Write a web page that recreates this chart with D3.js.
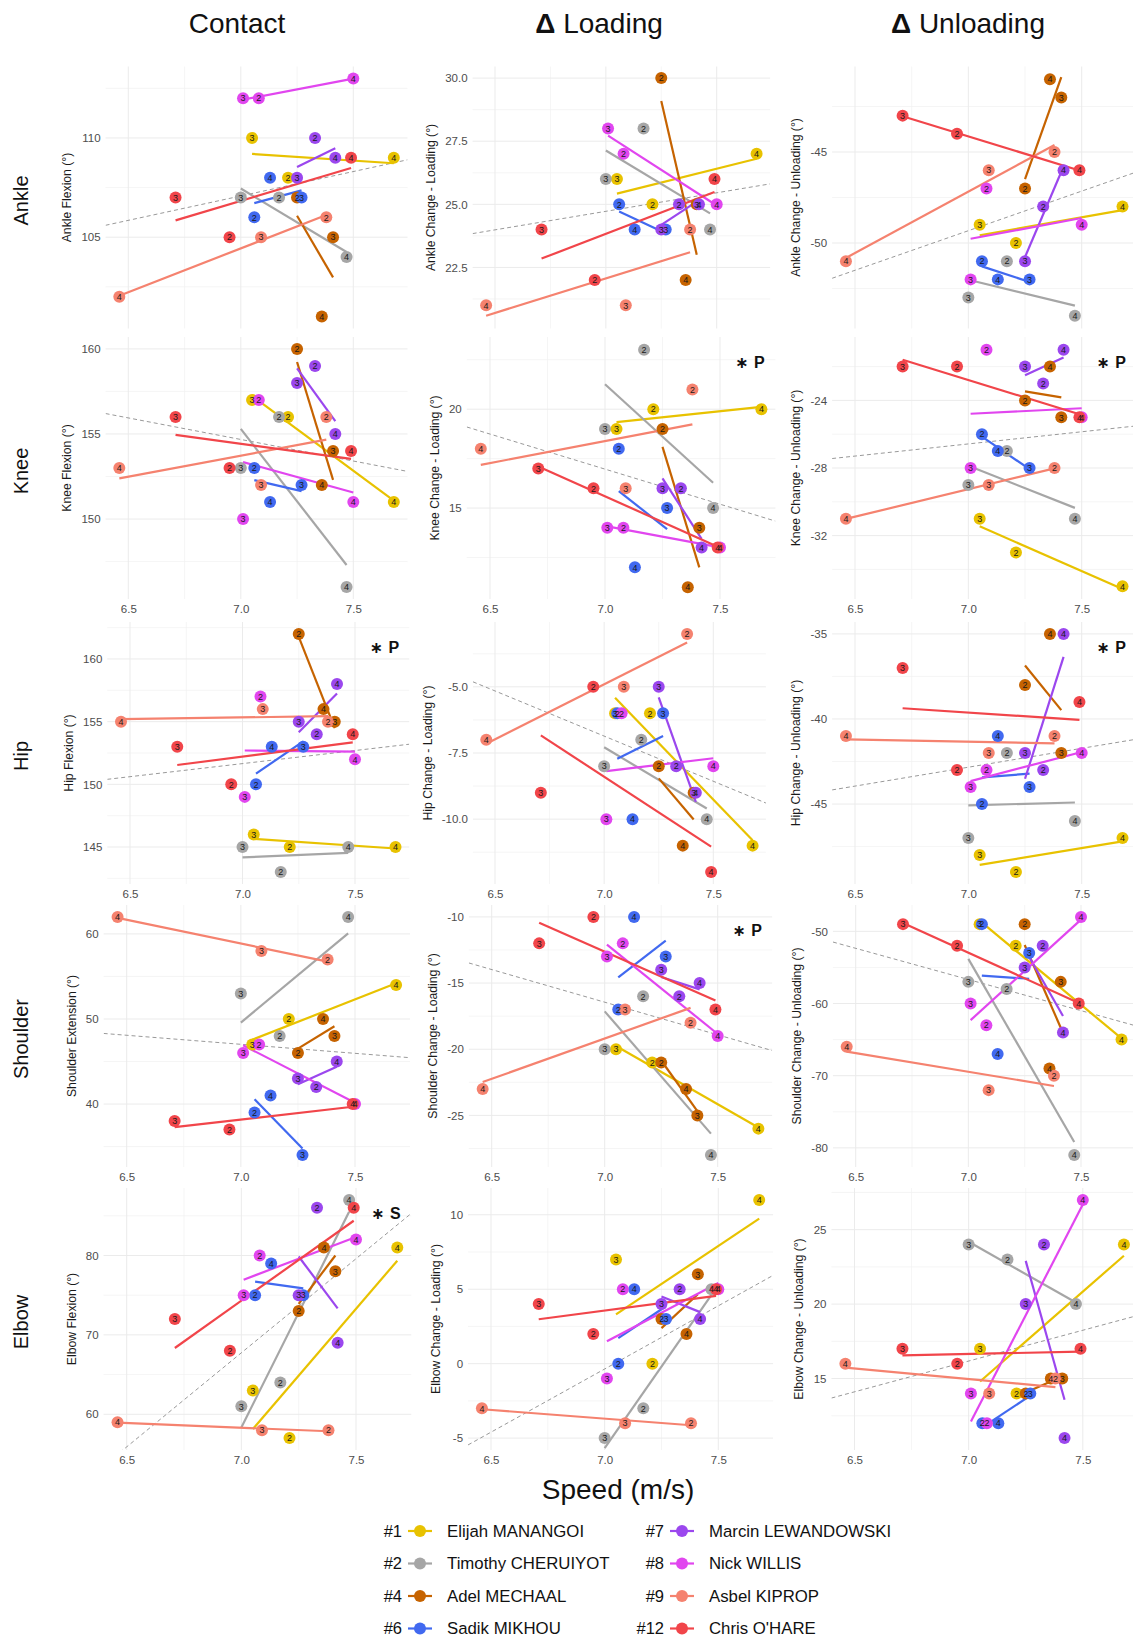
<!DOCTYPE html>
<html><head><meta charset="utf-8">
<script src="https://cdn.jsdelivr.net/npm/d3@7"></script>
<style>body{margin:0;background:#fff} svg{display:block} text{font-family:"Liberation Sans",Arial,sans-serif}</style>
</head><body><svg id="chart" width="1133" height="1642"></svg>
<script>
// ---------------- DATA ----------------
const athleteIds = ["#1","#2","#4","#6","#7","#8","#9","#12"];
const athleteNames = ["Elijah MANANGOI","Timothy CHERUIYOT","Adel MECHAAL","Sadik MIKHOU","Marcin LEWANDOWSKI","Nick WILLIS","Asbel KIPROP","Chris O'HARE"];
const trials = [2,3,4];
// speed (m/s) per athlete for trials 2,3,4
const speeds = [[7.21,7.05,7.68],[7.17,7.00,7.47],[7.25,7.41,7.36],[7.06,7.27,7.13],[7.33,7.25,7.42],[7.08,7.01,7.50],[7.38,7.09,6.46],[6.95,6.71,7.49]];
const jointNames = ["Ankle","Knee","Hip","Shoulder","Elbow"];
const phaseNames = ["Contact","Loading","Unloading"];
const yTitles = [
 ["Ankle Flexion (°)","Ankle Change - Loading (°)","Ankle Change - Unloading (°)"],
 ["Knee Flexion (°)","Knee Change - Loading (°)","Knee Change - Unloading (°)"],
 ["Hip Flexion (°)","Hip Change - Loading (°)","Hip Change - Unloading (°)"],
 ["Shoulder Extension (°)","Shoulder Change - Loading (°)","Shoulder Change - Unloading (°)"],
 ["Elbow Flexion (°)","Elbow Change - Loading (°)","Elbow Change - Unloading (°)"]];
// values per athlete, trials 2,3,4
const ankleContact = [[108,110,109],[107,107,104],[107,105,101],[106,107,108],[110,108,109],[112,112,113],[106,105,102],[105,107,109]];
const ankleLoading = [[25,26,27],[28,26,24],[30,25,22],[25,24,24],[25,24,25],[27,28,25],[24,21,21],[22,24,26]];
const ankleUnloading = [[-50,-49,-48],[-51,-53,-54],[-47,-42,-41],[-51,-52,-52],[-48,-51,-46],[-47,-52,-49],[-45,-46,-51],[-44,-43,-46]];
const kneeContact = [[156,157,151],[156,153,146],[160,154,152],[153,152,151],[159,158,155],[157,150,151],[156,152,153],[153,156,154]];
const kneeLoading = [[20,19,20],[23,19,15],[19,14,11],[18,15,12],[16,16,13],[14,14,13],[21,16,18],[16,17,13]];
const kneeUnloading = [[-33,-31,-35],[-27,-29,-31],[-24,-25,-22],[-26,-28,-27],[-23,-22,-21],[-21,-28,-25],[-28,-29,-31],[-22,-22,-25]];
const hipContact = [[145,146,145],[143,145,145],[162,155,156],[150,153,153],[154,155,158],[157,149,152],[155,156,155],[150,153,154]];
const hipLoading = [[-6,-6,-11],[-7,-8,-10],[-8,-9,-11],[-6,-6,-10],[-8,-5,-9],[-6,-10,-8],[-3,-5,-7],[-5,-9,-12]];
const hipUnloading = [[-49,-48,-47],[-42,-47,-46],[-38,-42,-35],[-45,-44,-41],[-43,-42,-35],[-43,-44,-42],[-41,-42,-41],[-43,-37,-39]];
const shoulderContact = [[50,47,54],[48,53,62],[46,48,50],[39,34,41],[42,43,45],[47,46,40],[57,58,62],[37,38,40]];
const shoulderLoading = [[-21,-20,-26],[-16,-20,-28],[-21,-25,-23],[-17,-13,-10],[-16,-14,-15],[-12,-13,-19],[-18,-17,-23],[-10,-12,-17]];
const shoulderUnloading = [[-52,-49,-65],[-58,-57,-81],[-49,-57,-69],[-49,-53,-67],[-52,-55,-64],[-63,-60,-48],[-70,-72,-66],[-52,-49,-60]];
const elbowContact = [[57,63,81],[64,61,87],[73,78,81],[75,75,79],[86,75,69],[80,75,82],[58,58,59],[68,72,86]];
const elbowLoading = [[0,7,11],[-3,-5,5],[3,6,2],[0,3,5],[5,4,3],[5,-1,5],[-4,-4,-3],[2,4,5]];
const elbowUnloading = [[14,17,24],[23,24,20],[14,15,15],[12,14,12],[24,20,11],[12,14,27],[15,14,16],[16,17,17]];
const panelValues = [
 [ankleContact,ankleLoading,ankleUnloading],
 [kneeContact,kneeLoading,kneeUnloading],
 [hipContact,hipLoading,hipUnloading],
 [shoulderContact,shoulderLoading,shoulderUnloading],
 [elbowContact,elbowLoading,elbowUnloading]];
const yLimits = [
 [[100.4,113.6],[20.08,30.46],[-54.7,-40.3]],
 [[145.3,160.7],[10.4,23.65],[-35.75,-20.25]],
 [[142.05,162.95],[-12.45,-2.55],[-49.7,-34.3]],
 [[32.6,63.4],[-28.9,-9.1],[-82.65,-46.35]],
 [[55.5,88.5],[-5.8,11.8],[10.2,27.8]]];
const yTickValues = [
 [[105,110],[22.5,25,27.5,30],[-50,-45]],
 [[150,155,160],[15,20],[-32,-28,-24]],
 [[145,150,155,160],[-10,-7.5,-5],[-45,-40,-35]],
 [[40,50,60],[-25,-20,-15,-10],[-80,-70,-60,-50]],
 [[60,70,80],[-5,0,5,10],[15,20,25]]];
const xTickValues = [6.5,7.0,7.5];
// overall (pooled) trend: value at left and right end of the speed range
const trendStart = [[105.6,23.84,-51.94],[156.2,19.1,-27.44],[150.4,-4.81,-44.17],[48.3,-13.48,-51.48],[53.5,-5.46,13.69]];
const trendEnd   = [[108.9,25.81,-46.1],[152.8,14.34,-25.51],[153.2,-9.39,-41.19],[45.45,-20.1,-63.07],[85.3,5.93,19.24]];
const sigLabels = [["","",""],["","P","P"],["P","","P"],["","P",""],["S","",""]];

// ---------------- STYLE / LAYOUT ----------------
const colors = ["#E8C200","#A6A6A6","#C66300","#4169F0","#9B47EE","#E146EF","#F5826F","#F1454A"];
const W=1133,H=1642;
const rowTops=[66.5,337,622,905,1188], PH=262;
const xAnchors = [
 [[128.3,353.3],[495,716.7],[855,1081.7]],
 [[128.3,353.3],[490,720],[855,1081.7]],
 [[130,355],[495,713.3],[855,1081.7]],
 [[126.7,355],[491.7,717.7],[855.7,1081]],
 [[126.7,356],[491,718.3],[854.5,1082.8]]];
const colTitleX=[237,599,968];

const svg=d3.select("#chart");
svg.append("rect").attr("width",W).attr("height",H).attr("fill","#fff");
const defs=svg.append("defs");

const allX=speeds.flat();
const ext=d3.extent(allX), pad=(ext[1]-ext[0])*0.05;
const xDom=[ext[0]-pad, ext[1]+pad];

function ols(pts){
  const mx=d3.mean(pts,d=>d.x), my=d3.mean(pts,d=>d.y);
  let sxy=0,sxx=0; pts.forEach(p=>{sxy+=(p.x-mx)*(p.y-my); sxx+=(p.x-mx)*(p.x-mx);});
  const b=sxy/sxx; return v=>my+b*(v-mx);
}
function minorOf(ticks,dom){
  const step=ticks[1]-ticks[0]; const out=[];
  for(let v=ticks[0]-step/2; v<=dom[1]+1e-9; v+=step){ if(v>=dom[0]) out.push(v); }
  return out;
}

for(let r=0;r<5;r++){
  for(let c=0;c<3;c++){
    const vals=panelValues[r][c];
    const x=d3.scaleLinear().domain([6.5,7.5]).range(xAnchors[r][c]);
    const top=rowTops[r];
    const y=d3.scaleLinear().domain(yLimits[r][c]).range([top+PH,top]);
    const left=x(xDom[0]), right=x(xDom[1]);
    const g=svg.append("g");
    const cid=`clip${r}${c}`;
    defs.append("clipPath").attr("id",cid).append("rect").attr("x",left).attr("y",top).attr("width",right-left).attr("height",PH);
    // grid
    const grid=g.append("g");
    const yt=yTickValues[r][c];
    minorOf(yt,yLimits[r][c]).forEach(v=>grid.append("line").attr("x1",left).attr("x2",right).attr("y1",y(v)).attr("y2",y(v)).attr("stroke","#F0F0F0").attr("stroke-width",0.7));
    [6.75,7.25].forEach(v=>grid.append("line").attr("x1",x(v)).attr("x2",x(v)).attr("y1",top).attr("y2",top+PH).attr("stroke","#F0F0F0").attr("stroke-width",0.7));
    yt.forEach(v=>grid.append("line").attr("x1",left).attr("x2",right).attr("y1",y(v)).attr("y2",y(v)).attr("stroke","#EBEBEB").attr("stroke-width",1));
    xTickValues.forEach(v=>grid.append("line").attr("x1",x(v)).attr("x2",x(v)).attr("y1",top).attr("y2",top+PH).attr("stroke","#EBEBEB").attr("stroke-width",1));
    const plot=g.append("g").attr("clip-path",`url(#${cid})`);
    // overall trend
    plot.append("line").attr("x1",x(xDom[0])).attr("x2",x(xDom[1])).attr("y1",y(trendStart[r][c])).attr("y2",y(trendEnd[r][c]))
      .attr("stroke","#999").attr("stroke-width",1).attr("stroke-dasharray","4,3");
    // athlete fits
    const lineGen=d3.line().x(d=>x(d[0])).y(d=>y(d[1]));
    const pts=[];
    athleteIds.forEach((id,a)=>{
      const p=trials.map((t,i)=>({x:speeds[a][i],y:vals[a][i],t,a}));
      pts.push(...p);
      const f=ols(p); const xe=d3.extent(p,d=>d.x);
      plot.append("path").attr("d",lineGen([[xe[0],f(xe[0])],[xe[1],f(xe[1])]])).attr("stroke",colors[a]).attr("stroke-width",2.2).attr("fill","none");
    });
    plot.selectAll("circle.pt").data(pts).join("circle").attr("class","pt").attr("cx",d=>x(d.x)).attr("cy",d=>y(d.y)).attr("r",6).attr("fill",d=>colors[d.a]);
    plot.selectAll("text.lb").data(pts).join("text").attr("class","lb").attr("x",d=>x(d.x)).attr("y",d=>y(d.y)).attr("dy","0.36em")
      .attr("text-anchor","middle").attr("font-size",9).attr("fill","#1a1a1a").text(d=>d.t);
    // axes
    const fmt = yt.some(v=>!Number.isInteger(v)) ? d3.format(".1f") : d3.format("d");
    const ya=g.append("g").attr("transform",`translate(${left},0)`).call(d3.axisLeft(y).tickValues(yt).tickSize(0).tickPadding(5).tickFormat(v=>fmt(v).replace("−","-")));
    ya.select(".domain").remove();
    ya.selectAll("text").attr("font-size",11.5).attr("fill","#4D4D4D").attr("font-family","Liberation Sans, Arial, sans-serif");
    let maxW=0; ya.selectAll("text").each(function(){maxW=Math.max(maxW,this.getComputedTextLength());});
    if(r>0){
      const xa=g.append("g").attr("transform",`translate(0,${top+PH})`).call(d3.axisBottom(x).tickValues(xTickValues).tickSize(0).tickPadding(6).tickFormat(d3.format(".1f")));
      xa.select(".domain").remove();
      xa.selectAll("text").attr("font-size",11.5).attr("fill","#4D4D4D").attr("font-family","Liberation Sans, Arial, sans-serif");
    }
    const tx=left-5-maxW-14.5, ty=top+PH/2;
    g.append("text").attr("transform",`translate(${tx},${ty}) rotate(-90)`).attr("text-anchor","middle").attr("dy","0.35em")
      .attr("font-size",12.2).attr("fill","#1a1a1a").text(yTitles[r][c]);
    if(sigLabels[r][c]){
      const t=g.append("text").attr("x",x(7.63)).attr("y",top+25).attr("dy","0.35em").attr("text-anchor","middle").attr("font-size",16).attr("font-weight","bold").attr("fill","#111");
      t.append("tspan").attr("font-family","DejaVu Sans").text("∗ ");
      t.append("tspan").text(sigLabels[r][c]);
    }
  }
}
// column titles
phaseNames.forEach((p,c)=>{
  const t=svg.append("text").attr("x",colTitleX[c]).attr("y",33).attr("text-anchor","middle").attr("font-size",28).attr("fill","#111");
  if(c>0){ t.append("tspan").attr("font-weight","bold").text("Δ "); }
  t.append("tspan").text(p);
});
// row titles
jointNames.forEach((j,r)=>{
  svg.append("text").attr("transform",`translate(21,${rowTops[r]+PH/2+3}) rotate(-90)`).attr("text-anchor","middle").attr("dy","0.35em")
    .attr("font-size",20).attr("fill","#111").text(j);
});
svg.append("text").attr("x",618).attr("y",1499).attr("text-anchor","middle").attr("font-size",28).attr("fill","#111").text("Speed (m/s)");
// legend
const legRows=[1531,1563.5,1596,1628.5];
athleteIds.forEach((id,a)=>{
  const col=Math.floor(a/4), row=a%4;
  const cx=[420,682][col], ly=legRows[row];
  svg.append("text").attr("x",cx-18).attr("y",ly).attr("dy","0.35em").attr("text-anchor","end").attr("font-size",16.5).attr("fill","#111").text(id);
  svg.append("line").attr("x1",cx-12).attr("x2",cx+12).attr("y1",ly).attr("y2",ly).attr("stroke",colors[a]).attr("stroke-width",2.2);
  svg.append("circle").attr("cx",cx).attr("cy",ly).attr("r",6).attr("fill",colors[a]);
  svg.append("text").attr("x",cx+27).attr("y",ly).attr("dy","0.35em").attr("font-size",16.8).attr("fill","#111").text(athleteNames[a]);
});
</script></body></html>
